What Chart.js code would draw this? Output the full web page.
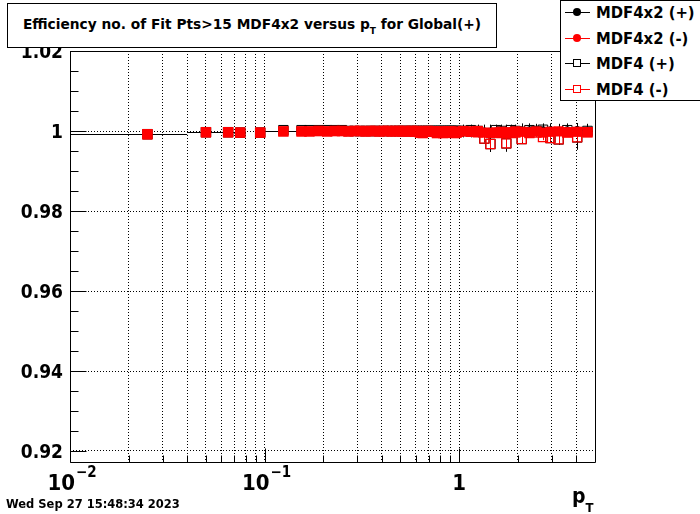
<!DOCTYPE html>
<html>
<head>
<meta charset="utf-8">
<script src="https://cdn.jsdelivr.net/npm/chart.js@4.4.0/dist/chart.umd.min.js"></script>
<style>
  body { margin: 0; background: #fff; }
  #wrap {
    position: relative; width: 700px; height: 514px; overflow: hidden;
    font-family: "DejaVu Sans Condensed", "DejaVu Sans", sans-serif;
    font-stretch: condensed; font-weight: bold; color: #000;
  }
  #chart { position: absolute; left: 0; top: 0; }
  #title {
    position: absolute; left: 7px; top: 3px; width: 490px; height: 45px;
    border: 1px solid #000; background: #fff; box-sizing: border-box;
    font-family: "DejaVu Sans", sans-serif; font-stretch: normal;
    font-size: 13.75px; text-align: center; line-height: 40px; white-space: nowrap;
  }
  #title sub { font-size: 9px; vertical-align: -5px; line-height: 0; }
  #legend {
    position: absolute; left: 560px; top: 0; width: 160px; height: 101px;
    border: 1px solid #000; background: #fff; box-sizing: border-box;
  }
  .row { position: absolute; left: 0; height: 20px; width: 150px; }
  .row .ln { position: absolute; left: 4px; top: 9px; width: 25px; height: 1px; }
  .row .mk { position: absolute; left: 12px; top: 5px; width: 8px; height: 8px; box-sizing: border-box; }
  .row .tx { position: absolute; left: 35px; top: 0; font-size: 16.5px; line-height: 20px; white-space: nowrap; }
  #date {
    position: absolute; left: 6px; top: 497px; font-size: 11.5px; white-space: nowrap;
    font-family: "DejaVu Sans", sans-serif; font-stretch: normal;
  }
  #ptitle { position: absolute; left: 572px; top: 484px; font-size: 21px; white-space: nowrap; }
  #ptitle sub { font-size: 13px; vertical-align: -9px; line-height: 0; }
</style>
</head>
<body>
<div id="wrap">
  <canvas id="chart" width="700" height="514"></canvas>
  <div id="title">Efficiency no. of Fit Pts&gt;15 MDF4x2 versus p<sub>T</sub> for Global(+)</div>
  <div id="legend">
    <div class="row" style="top:2px"><div class="ln" style="background:#000"></div><div class="mk" style="background:#000;border-radius:50%"></div><div class="tx">MDF4x2 (+)</div></div>
    <div class="row" style="top:28px"><div class="ln" style="background:#f00"></div><div class="mk" style="background:#f00;border-radius:50%"></div><div class="tx">MDF4x2 (-)</div></div>
    <div class="row" style="top:53px"><div class="ln" style="background:#000"></div><div class="mk" style="background:#fff;border:1px solid #000"></div><div class="tx">MDF4 (+)</div></div>
    <div class="row" style="top:79px"><div class="ln" style="background:#f00"></div><div class="mk" style="background:#fff;border:1px solid #f00"></div><div class="tx">MDF4 (-)</div></div>
  </div>
  <div id="date">Wed Sep 27 15:48:34 2023</div>
  <div id="ptitle">p<sub>T</sub></div>
</div>
<script>
// pT bin edges (GeV/c)
const binEdges = [
  0.01, 0.04, 0.06, 0.07, 0.08, 0.09, 0.10, 0.15,
  0.16, 0.18, 0.20, 0.22, 0.24, 0.26, 0.28, 0.30, 0.32, 0.34, 0.36, 0.38,
  0.40, 0.42, 0.44, 0.46, 0.48, 0.50, 0.52, 0.54, 0.56, 0.58, 0.60, 0.62,
  0.64, 0.66, 0.68, 0.70, 0.72, 0.74, 0.76, 0.78, 0.80, 0.82, 0.84, 0.86,
  0.88, 0.90, 0.92, 0.94, 0.96, 0.98, 1.00,
  1.1, 1.2, 1.3, 1.4, 1.5, 1.6, 1.7, 1.8, 1.9, 2.0,
  2.2, 2.4, 2.6, 2.8, 3.1, 3.4, 3.8, 4.3, 4.85
];

// efficiency per bin
const effMdf4x2Pos = [
  0.99925, 0.9997, 0.9997, 0.9996, null, 0.9996, 0.99995, 1.0,
  1.0, 1.0, 1.0, 1.0, 1.0, 1.0, 1.0, 1.0, 1.0, 1.0,
  1.0, 1.0, 1.0, 1.0, 1.0, 1.0, 1.0, 1.0, 1.0, 1.0,
  1.0, 1.0, 1.0, 1.0, 1.0, 1.0, 1.0, 1.0, 1.0, 1.0,
  1.0, 1.0, 1.0, 1.0, 1.0, 1.0, 1.0, 1.0, 1.0, 1.0,
  1.0, 1.0,
  1.0, 1.0, 1.0, 1.0, 1.0, 1.0, 1.0, 1.0, 1.0, 1.0,
  1.0003, 1.0003, 1.0002, 1.0003, 1.0003, 1.0002, 1.0003, 1.0004, 1.0002
];
const effMdf4x2Neg = [
  0.9992, 0.9997, 0.9997, 0.9996, null, 0.9996, 0.9999, 0.9999,
  0.9999, 1.0, 0.9999, 1.0, 1.0, 0.9999, 1.0, 1.0, 0.9999, 1.0,
  1.0, 0.9999, 1.0, 1.0, 0.9999, 1.0, 1.0, 0.9999, 1.0, 0.9999,
  1.0, 0.9999, 1.0, 0.9996, 0.9995, 0.9998, 1.0, 0.9999, 0.9998, 0.9999,
  0.9995, 0.9996, 0.9999, 0.9995, 0.9996, 0.9998, 0.9999, 0.9998, 0.9997, 0.9995,
  0.9996, 0.9998,
  1.0, 0.9999, 1.0, 0.9996, 0.9995, 0.9996, 0.9998, 0.9996, 0.9997, 0.9999,
  0.9998, 0.9997, 0.9999, 0.9996, 0.9998, 0.9999, 0.9997, 0.9998, 0.9997
];
const effMdf4Pos = [
  0.9992, 0.9997, 0.9997, 0.9996, null, 0.9996, 1.0002, 1.0002,
  1.0002, 1.0002, 1.0002, 1.0002, 1.0002, 1.0, 1.0, 1.0, 1.0, 1.0,
  1.0, 1.0, 1.0, 1.0, 1.0, 1.0, 1.0, 1.0, 1.0, 1.0,
  1.0, 1.0, 1.0, 1.0, 1.0, 1.0, 1.0, 1.0, 1.0, 1.0,
  1.0, 1.0, 1.0, 1.0, 1.0, 1.0, 1.0, 1.0, 1.0, 1.0,
  1.0, 1.0,
  1.0, 1.0002, 1.0, 0.9981, 0.99675, 1.0002, 1.0, 0.9969, 1.0002, 1.0,
  0.998, 1.0002, 1.0, 1.0003, 0.99825, 0.9979, 1.0002, 0.9984, 1.0
];
const effMdf4Neg = [
  0.9992, 0.9997, 0.9997, 0.9996, null, 0.9996, 0.9999, 0.9999,
  0.9999, 1.0, 0.9999, 1.0, 1.0, 0.9999, 1.0, 1.0, 0.9999, 1.0,
  1.0, 0.9999, 1.0, 1.0, 0.9999, 1.0, 1.0, 0.9999, 1.0, 0.9999,
  1.0, 0.9999, 1.0, 0.9996, 0.9995, 0.9998, 1.0, 0.9999, 0.9998, 0.9999,
  0.9995, 0.9996, 0.9999, 0.9995, 0.9996, 0.9998, 0.9999, 0.9998, 0.9997, 0.9995,
  0.9996, 0.9998,
  0.9999, 0.9998, 0.9997, 0.9981, 0.99675, 0.9996, 0.9995, 0.9969, 0.9995, 0.9996,
  0.998, 0.9995, 0.9996, 0.9985, 0.99825, 0.9979, 0.9996, 0.9984, 0.9997
];

// vertical error per bin
const errMdf4x2Pos = [
  0, 0, 0, 0, 0, 0, 0, 0,
  0, 0, 0, 0, 0, 0, 0, 0, 0, 0,
  0, 0, 0, 0, 0, 0, 0, 0, 0, 0,
  0, 0, 0, 0, 0, 0, 0, 0, 0, 0,
  0, 0, 0, 0, 0, 0, 0, 0, 0, 0,
  0, 0,
  0.0016, 0.0016, 0.0016, 0.0016, 0.0016, 0.0016, 0.0016, 0.0016, 0.0016, 0.0016,
  0.0016, 0.0016, 0.0016, 0.0016, 0.0016, 0.0016, 0.0016, 0.0016, 0.0016
];
const errMdf4Pos = [
  0, 0, 0, 0, 0, 0, 0, 0,
  0, 0, 0, 0, 0, 0, 0, 0, 0, 0,
  0, 0, 0, 0, 0, 0, 0, 0, 0, 0,
  0, 0, 0, 0, 0, 0, 0, 0, 0, 0,
  0, 0, 0, 0, 0, 0, 0, 0, 0, 0,
  0, 0,
  0.0004, 0.0004, 0.0004, 0.0010, 0.0020, 0.0004, 0.0004, 0.0021, 0.0004, 0.0004,
  0.0012, 0.0004, 0.0004, 0.0004, 0.0012, 0.0014, 0.0004, 0.0031, 0.0004
];
const errMdf4Neg = [
  0, 0, 0, 0, 0, 0, 0, 0,
  0, 0, 0, 0, 0, 0, 0, 0, 0, 0,
  0, 0, 0, 0, 0, 0, 0, 0, 0, 0,
  0, 0, 0, 0, 0, 0, 0, 0, 0, 0,
  0, 0, 0, 0, 0, 0, 0, 0, 0, 0,
  0, 0,
  0.0003, 0.0003, 0.0003, 0.0008, 0.0012, 0.0003, 0.0003, 0.0013, 0.0003, 0.0003,
  0.0009, 0.0003, 0.0003, 0.0008, 0.0009, 0.0010, 0.0003, 0.0008, 0.0003
];

// axis ticks
const xTickValues = [0.01, 0.02, 0.03, 0.04, 0.05, 0.06, 0.07, 0.08, 0.09,
  0.1, 0.2, 0.3, 0.4, 0.5, 0.6, 0.7, 0.8, 0.9, 1, 2, 3, 4];
const xMajorTicks = [0.01, 0.1, 1];
const xTickLabels = [["10", "\u22122"], ["10", "\u22121"], ["1", ""]];
const yTickValues = [0.92, 0.94, 0.96, 0.98, 1.0, 1.02];
const yMinorTicks = [0.92, 0.925, 0.93, 0.935, 0.94, 0.945, 0.95, 0.955, 0.96, 0.965,
  0.97, 0.975, 0.98, 0.985, 0.99, 0.995, 1.0, 1.005, 1.01, 1.015, 1.02];

const FONT = "'DejaVu Sans Condensed', 'DejaVu Sans', sans-serif";

const centers = binEdges.slice(0, -1).map((lo, i) => (lo + binEdges[i + 1]) / 2);
const toPoints = vals => centers.map((x, i) => ({ x: x, y: vals[i] }));

const errorBars = {
  id: "errorBars",
  beforeDatasetDraw(chart, args) {
    const ds = chart.data.datasets[args.index];
    const xs = chart.scales.x, ys = chart.scales.y, a = chart.chartArea;
    const ctx = chart.ctx;
    ctx.save();
    ctx.beginPath();
    ctx.rect(a.left, a.top, a.right - a.left, a.bottom - a.top);
    ctx.clip();
    ctx.strokeStyle = ds.borderColor;
    ctx.lineWidth = 1;
    ctx.beginPath();
    ds.data.forEach((p, i) => {
      if (p.y == null) return;
      const px = Math.round(xs.getPixelForValue(p.x)) + 0.5;
      const py = Math.round(ys.getPixelForValue(p.y)) + 0.5;
      if (ds.xErrors) {
        ctx.moveTo(xs.getPixelForValue(binEdges[i]), py);
        ctx.lineTo(xs.getPixelForValue(binEdges[i + 1]), py);
      }
      const e = ds.yErrors ? ds.yErrors[i] : 0;
      if (e) {
        ctx.moveTo(px, ys.getPixelForValue(p.y - e));
        ctx.lineTo(px, ys.getPixelForValue(p.y + e));
      }
    });
    ctx.stroke();
    ctx.restore();
  }
};

const frameAndTicks = {
  id: "frameAndTicks",
  afterDraw(chart) {
    const ctx = chart.ctx, a = chart.chartArea;
    const xs = chart.scales.x, ys = chart.scales.y;
    const L = Math.floor(a.left) + 0.5, R = Math.floor(a.right) + 0.5;
    const T = Math.floor(a.top) + 0.5, B = Math.floor(a.bottom) + 0.5;
    ctx.save();
    ctx.strokeStyle = "#000";
    ctx.lineWidth = 1;
    ctx.beginPath();
    ctx.rect(L, T, R - L, B - T);
    yMinorTicks.forEach(v => {
      const y = Math.round(ys.getPixelForValue(v)) + 0.5;
      const len = yTickValues.some(t => Math.abs(t - v) < 1e-9) ? 16 : 8;
      ctx.moveTo(L, y); ctx.lineTo(L + len, y);
    });
    xTickValues.forEach(v => {
      const x = Math.round(xs.getPixelForValue(v)) + 0.5;
      const len = xMajorTicks.includes(v) ? 14 : 7;
      ctx.moveTo(x, B); ctx.lineTo(x, B - len);
    });
    ctx.stroke();

    ctx.fillStyle = "#000";
    ctx.textBaseline = "alphabetic";
    xMajorTicks.forEach((v, i) => {
      const x = xs.getPixelForValue(v);
      const [base, sup] = xTickLabels[i];
      ctx.font = "bold 22px " + FONT;
      if (sup) {
        ctx.textAlign = "right";
        ctx.fillText(base, x + 5, 490);
        ctx.font = "bold 15px " + FONT;
        ctx.textAlign = "left";
        ctx.fillText(sup, x + 6, 477);
      } else {
        ctx.textAlign = "center";
        ctx.fillText(base, x, 490);
      }
    });
    ctx.restore();
  }
};

new Chart(document.getElementById("chart"), {
  type: "scatter",
  data: {
    datasets: [
      {
        label: "MDF4x2 (+)",
        data: toPoints(effMdf4x2Pos),
        order: 4,
        xErrors: true,
        yErrors: errMdf4x2Pos,
        borderColor: "#000",
        backgroundColor: "#000",
        pointStyle: "circle",
        pointRadius: 3.5,
        borderWidth: 0
      },
      {
        label: "MDF4 (+)",
        data: toPoints(effMdf4Pos),
        order: 3,
        yErrors: errMdf4Pos,
        borderColor: "#000",
        backgroundColor: "rgba(0,0,0,0)",
        pointStyle: "rect",
        pointRadius: 6.7,
        borderWidth: 1
      },
      {
        label: "MDF4x2 (-)",
        data: toPoints(effMdf4x2Neg),
        order: 2,
        borderColor: "#f00",
        backgroundColor: "#f00",
        pointStyle: "rect",
        pointRadius: 7.2,
        borderWidth: 0
      },
      {
        label: "MDF4 (-)",
        data: toPoints(effMdf4Neg),
        order: 1,
        yErrors: errMdf4Neg,
        borderColor: "#f00",
        backgroundColor: "rgba(0,0,0,0)",
        pointStyle: "rect",
        pointRadius: 6.4,
        borderWidth: 1.3
      }
    ]
  },
  options: {
    responsive: false,
    animation: false,
    events: [],
    layout: { padding: { left: 0, top: 51, right: 105, bottom: 52 } },
    plugins: { legend: { display: false }, tooltip: { enabled: false } },
    scales: {
      x: {
        type: "logarithmic",
        min: 0.01,
        max: 5,
        afterBuildTicks: s => { s.ticks = xTickValues.map(v => ({ value: v })); },
        afterFit: s => { s.height = 0; },
        ticks: { display: false },
        grid: { color: "#000", lineWidth: 1, drawTicks: false },
        border: { display: false, dash: [1, 2] }
      },
      y: {
        min: 0.91725,
        max: 1.02,
        afterBuildTicks: s => { s.ticks = yTickValues.map(v => ({ value: v })); },
        afterFit: s => { s.width = 70; },
        ticks: {
          color: "#000",
          padding: 7,
          labelOffset: 2,
          font: { family: FONT, size: 19, weight: "bold" },
          callback: v => (v === 1 ? "1" : v.toFixed(2))
        },
        grid: { color: "#000", lineWidth: 1, drawTicks: false },
        border: { display: false, dash: [1, 2] }
      }
    }
  },
  plugins: [errorBars, frameAndTicks]
});
</script>
</body>
</html>
